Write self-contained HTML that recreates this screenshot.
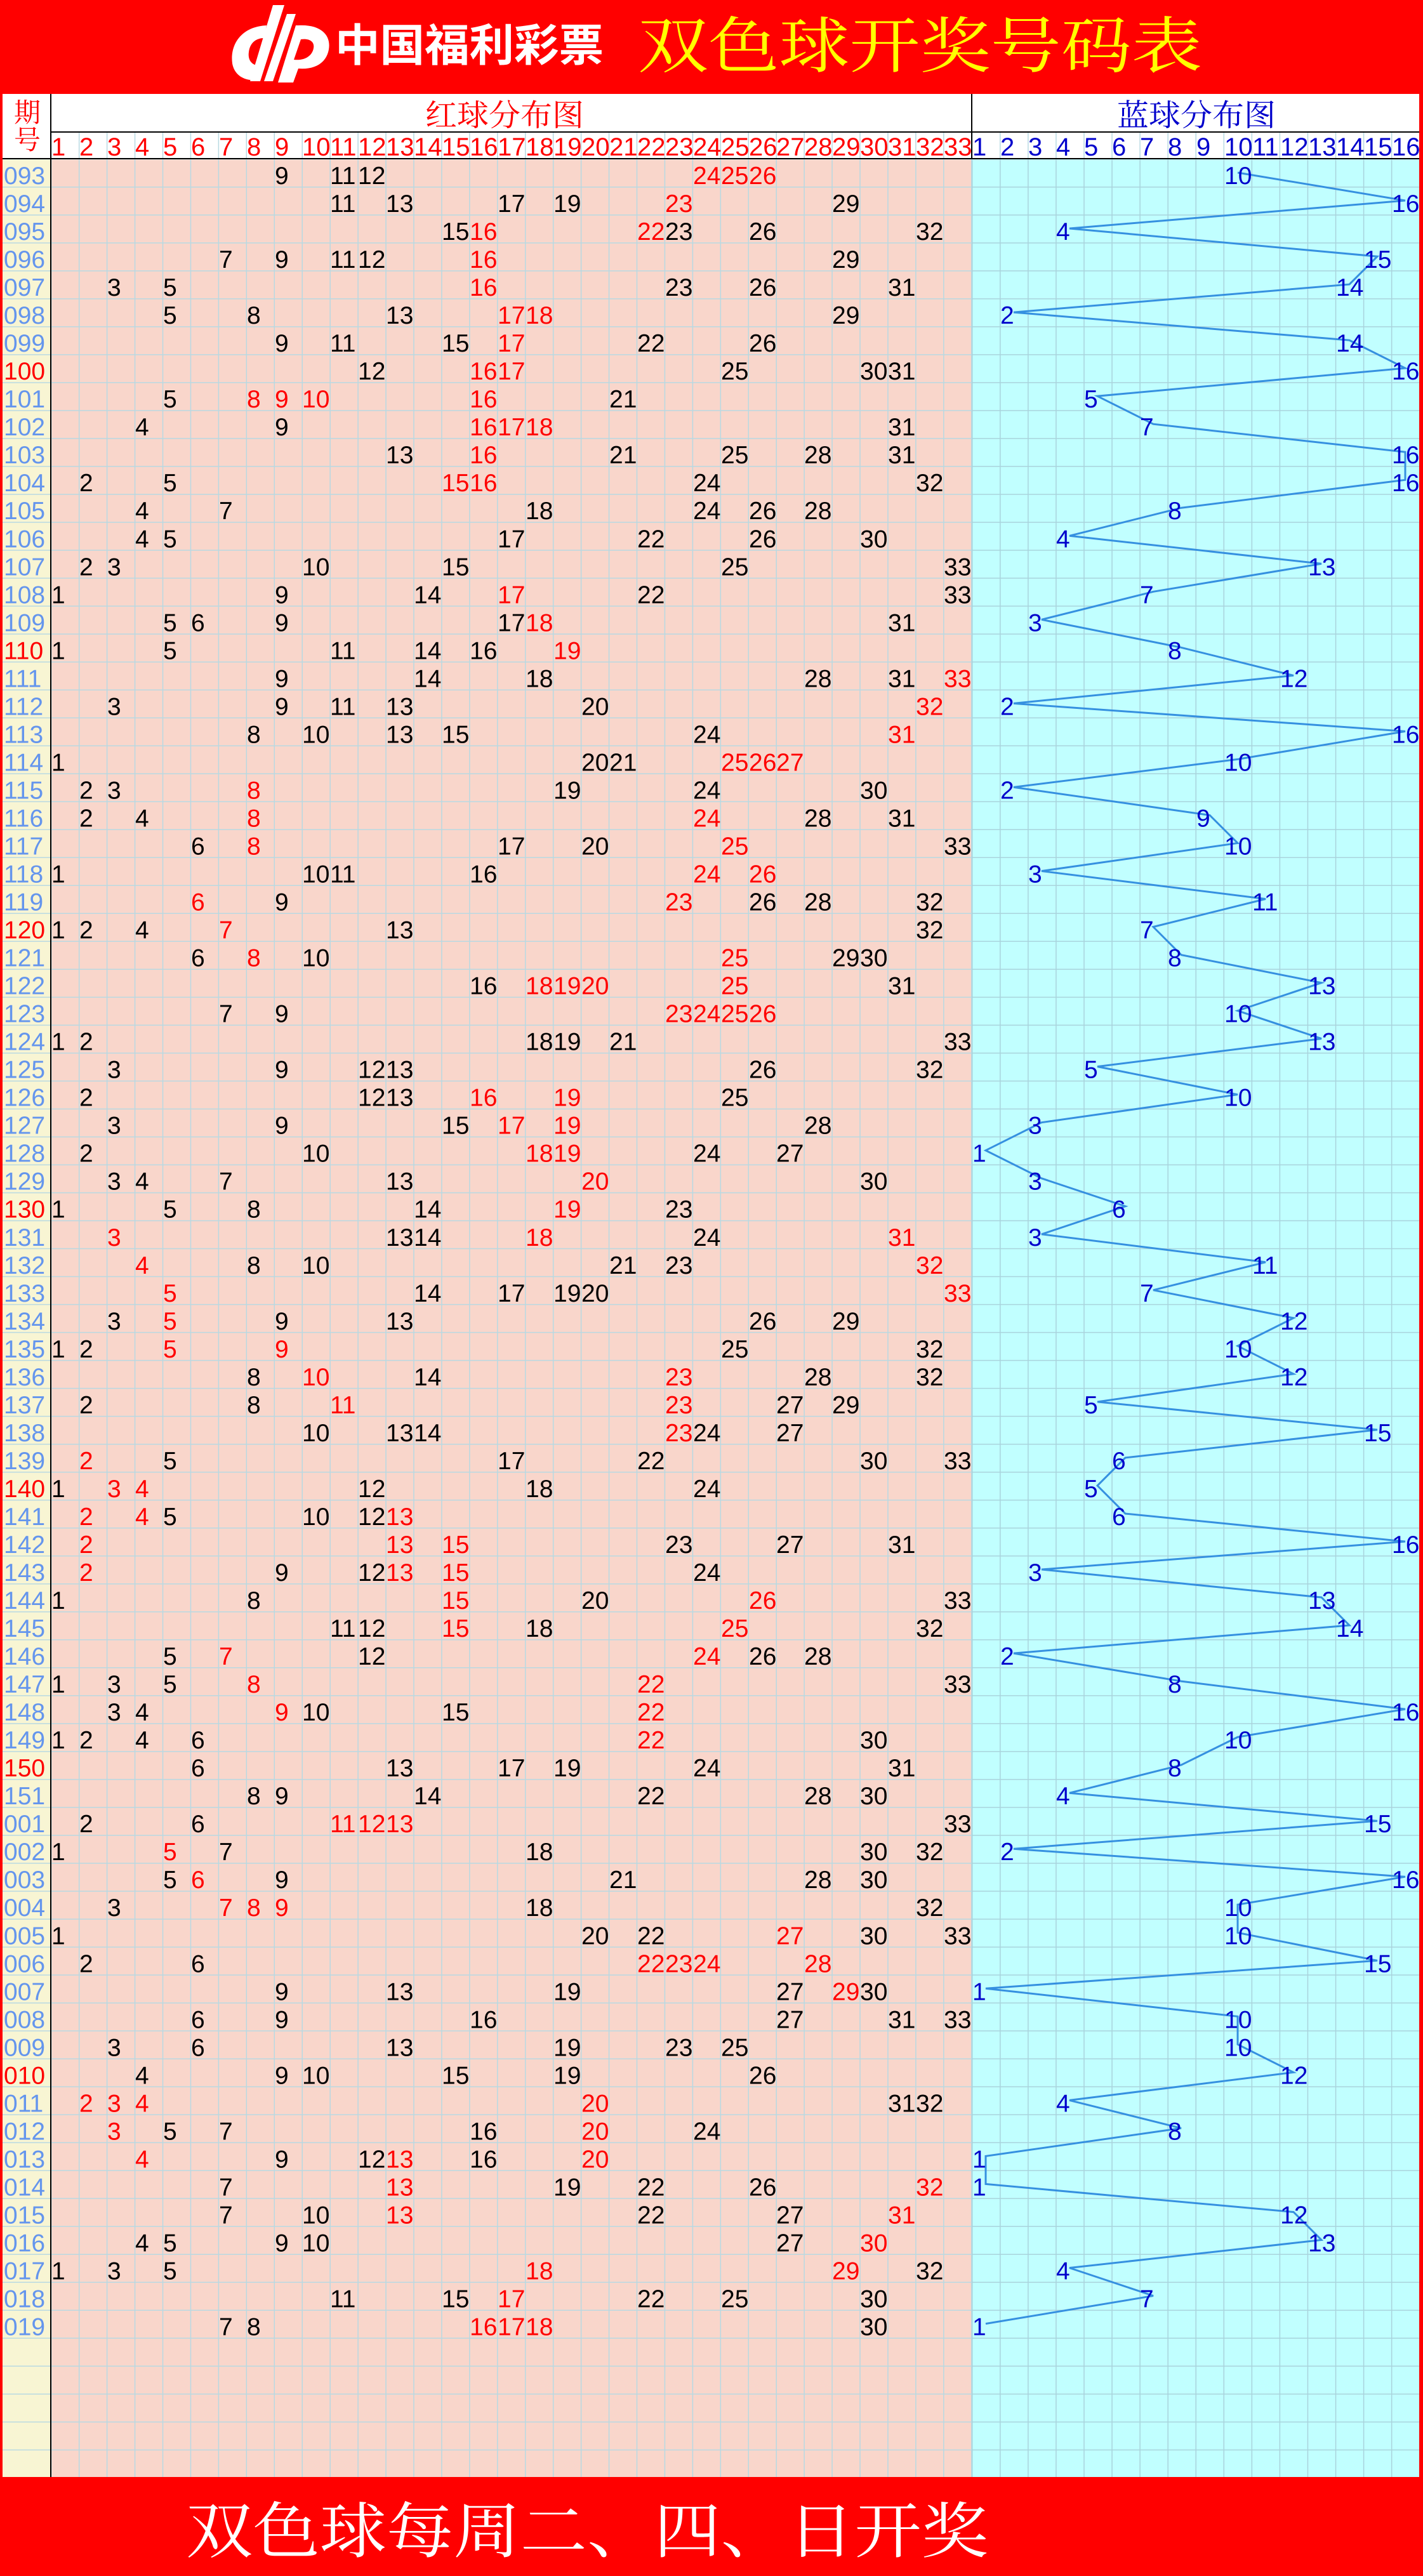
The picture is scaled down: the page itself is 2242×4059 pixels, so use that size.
<!DOCTYPE html>
<html><head><meta charset="utf-8"><style>
html,body{margin:0;padding:0;background:#f00;}
svg{display:block}
text{font-family:"Liberation Sans",sans-serif;font-size:39px;}
.p{fill:#6495ed}.pr{fill:#f00}
.k{fill:#000}.r{fill:#f00}
.b{fill:#0000cc}
.hr{fill:#f00;font-size:40px}.hb{fill:#0000cc;font-size:40px}
.cj{font-family:"Liberation Serif","Noto Serif CJK SC",serif;}
</style></head><body>
<svg xmlns="http://www.w3.org/2000/svg" width="2242" height="4059" viewBox="0 0 2242 4059">
<defs>
<pattern id="pr" x="80" y="250" width="43.94" height="44.02" patternUnits="userSpaceOnUse"><rect width="43.94" height="44.02" fill="#f9d6cb"/><path d="M0.75 0V44.02M0 0.75H43.94" stroke="#b8d9e2" stroke-width="1.5"/></pattern>
<pattern id="pb" x="1531" y="250" width="44.06" height="44.02" patternUnits="userSpaceOnUse"><rect width="44.06" height="44.02" fill="#c1ffff"/><path d="M0.75 0V44.02M0 0.75H44.06" stroke="#a9d3dc" stroke-width="1.5"/></pattern>
<pattern id="pc" x="4" y="250" width="76" height="44.02" patternUnits="userSpaceOnUse"><rect width="76" height="44.02" fill="#f8f5d3"/><path d="M0 0.75H76" stroke="#b8d9e2" stroke-width="1.5"/></pattern>
<pattern id="ph" x="80" y="208" width="43.94" height="42" patternUnits="userSpaceOnUse"><rect width="43.94" height="42" fill="#fff"/><path d="M0.75 0V42" stroke="#b8d9e2" stroke-width="1.5"/></pattern>
<pattern id="phb" x="1531" y="208" width="44.06" height="42" patternUnits="userSpaceOnUse"><rect width="44.06" height="42" fill="#fff"/><path d="M0.75 0V42" stroke="#b8d9e2" stroke-width="1.5"/></pattern>
</defs>
<rect width="2242" height="4059" fill="#f00"/>
<!-- logo -->
<g fill="#fff">
<path d="M420 40 C380 42 362 70 366 100 C370 122 390 128 405 126 L412 104 C398 104 390 96 392 82 C394 66 405 60 416 60 Z"/>
<polygon points="430,8 448,8 410,128 394,128"/>
<polygon points="452,22 466,22 430,128 416,128"/>
<path d="M470 40 C505 38 522 55 518 78 C514 100 495 110 470 108 L462 130 L438 130 L466 40 Z M474 62 L463 94 C480 96 492 88 494 76 C496 66 488 60 474 62 Z"/>
</g>
<text x="528" y="96" textLength="423" lengthAdjust="spacingAndGlyphs" style="font-family:'Liberation Sans','Noto Sans CJK SC',sans-serif;font-weight:bold;font-size:70px;fill:#fff">中国福利彩票</text>
<text class="cj" x="1005" y="106" textLength="889" lengthAdjust="spacingAndGlyphs" style="font-size:96px;fill:#ff0">双色球开奖号码表</text>
<!-- table -->
<rect x="4" y="148" width="2232" height="102" fill="#fff"/>
<rect x="80" y="208" width="1451" height="42" fill="url(#ph)"/>
<rect x="1531" y="208" width="705" height="42" fill="url(#phb)"/>
<rect x="4" y="250" width="76" height="3653" fill="url(#pc)"/>
<rect x="80" y="250" width="1451" height="3653" fill="url(#pr)"/>
<rect x="1531" y="250" width="705" height="3653" fill="url(#pb)"/>
<path d="M80 148V3903M80 208H2236M4 250H2236M1531 148V250" stroke="#000" stroke-width="2" fill="none"/>
<text class="cj" x="22" y="192" style="font-size:42px;fill:#f00">期</text>
<text class="cj" x="22" y="235" style="font-size:42px;fill:#f00">号</text>
<text class="cj" x="670" y="198" textLength="250" lengthAdjust="spacingAndGlyphs" style="font-size:48px;fill:#f00">红球分布图</text>
<text class="cj" x="1760" y="198" textLength="250" lengthAdjust="spacingAndGlyphs" style="font-size:48px;fill:#0000cc">蓝球分布图</text>
<text class="hr" y="245"><tspan x="81">1</tspan><tspan x="125">2</tspan><tspan x="169">3</tspan><tspan x="213">4</tspan><tspan x="257">5</tspan><tspan x="301">6</tspan><tspan x="345">7</tspan><tspan x="389">8</tspan><tspan x="433">9</tspan><tspan x="476">10</tspan><tspan x="520">11</tspan><tspan x="564">12</tspan><tspan x="608">13</tspan><tspan x="652">14</tspan><tspan x="696">15</tspan><tspan x="740">16</tspan><tspan x="784">17</tspan><tspan x="828">18</tspan><tspan x="872">19</tspan><tspan x="916">20</tspan><tspan x="960">21</tspan><tspan x="1004">22</tspan><tspan x="1048">23</tspan><tspan x="1092">24</tspan><tspan x="1136">25</tspan><tspan x="1180">26</tspan><tspan x="1223">27</tspan><tspan x="1267">28</tspan><tspan x="1311">29</tspan><tspan x="1355">30</tspan><tspan x="1399">31</tspan><tspan x="1443">32</tspan><tspan x="1487">33</tspan></text>
<text class="hb" y="245"><tspan x="1532">1</tspan><tspan x="1576">2</tspan><tspan x="1620">3</tspan><tspan x="1664">4</tspan><tspan x="1708">5</tspan><tspan x="1752">6</tspan><tspan x="1796">7</tspan><tspan x="1840">8</tspan><tspan x="1885">9</tspan><tspan x="1929">10</tspan><tspan x="1973">11</tspan><tspan x="2017">12</tspan><tspan x="2061">13</tspan><tspan x="2105">14</tspan><tspan x="2149">15</tspan><tspan x="2193">16</tspan></text>
<!-- blue line -->
<polyline fill="none" stroke="#3590e0" stroke-width="3" points="1950,272 2214,316 1685,360 2170,404.1 2126,448.1 1597,492.1 2126,536.1 2214,580.1 1729,624.2 1817,668.2 2214,712.2 2214,756.2 1861,800.2 1685,844.3 2082,888.3 1817,932.3 1641,976.3 1861,1020.3 2038,1064.4 1597,1108.4 2214,1152.4 1950,1196.4 1597,1240.4 1906,1284.5 1950,1328.5 1641,1372.5 1994,1416.5 1817,1460.5 1861,1504.6 2082,1548.6 1950,1592.6 2082,1636.6 1729,1680.6 1950,1724.7 1641,1768.7 1553,1812.7 1641,1856.7 1773,1900.7 1641,1944.8 1994,1988.8 1817,2032.8 2038,2076.8 1950,2120.8 2038,2164.9 1729,2208.9 2170,2252.9 1773,2296.9 1729,2340.9 1773,2385 2214,2429 1641,2473 2082,2517 2126,2561 1597,2605.1 1861,2649.1 2214,2693.1 1950,2737.1 1861,2781.1 1685,2825.2 2170,2869.2 1597,2913.2 2214,2957.2 1950,3001.2 1950,3045.3 2170,3089.3 1553,3133.3 1950,3177.3 1950,3221.3 2038,3265.4 1685,3309.4 1861,3353.4 1553,3397.4 1553,3441.4 2038,3485.5 2082,3529.5 1685,3573.5 1817,3617.5 1553,3661.5"/>
<!-- rows -->
<g transform="translate(0,250)"><text class="p" x="6" y="40">093</text><text class="k" y="40"><tspan x="433">9</tspan><tspan x="520">11</tspan><tspan x="564">12</tspan><tspan class="r" x="1092">24</tspan><tspan class="r" x="1136">25</tspan><tspan class="r" x="1180">26</tspan></text><text class="b" x="1929" y="40">10</text></g>
<g transform="translate(0,294)"><text class="p" x="6" y="40">094</text><text class="k" y="40"><tspan x="520">11</tspan><tspan x="608">13</tspan><tspan x="784">17</tspan><tspan x="872">19</tspan><tspan class="r" x="1048">23</tspan><tspan x="1311">29</tspan></text><text class="b" x="2193" y="40">16</text></g>
<g transform="translate(0,338)"><text class="p" x="6" y="40">095</text><text class="k" y="40"><tspan x="696">15</tspan><tspan class="r" x="740">16</tspan><tspan class="r" x="1004">22</tspan><tspan x="1048">23</tspan><tspan x="1180">26</tspan><tspan x="1443">32</tspan></text><text class="b" x="1664" y="40">4</text></g>
<g transform="translate(0,382.1)"><text class="p" x="6" y="40">096</text><text class="k" y="40"><tspan x="345">7</tspan><tspan x="433">9</tspan><tspan x="520">11</tspan><tspan x="564">12</tspan><tspan class="r" x="740">16</tspan><tspan x="1311">29</tspan></text><text class="b" x="2149" y="40">15</text></g>
<g transform="translate(0,426.1)"><text class="p" x="6" y="40">097</text><text class="k" y="40"><tspan x="169">3</tspan><tspan x="257">5</tspan><tspan class="r" x="740">16</tspan><tspan x="1048">23</tspan><tspan x="1180">26</tspan><tspan x="1399">31</tspan></text><text class="b" x="2105" y="40">14</text></g>
<g transform="translate(0,470.1)"><text class="p" x="6" y="40">098</text><text class="k" y="40"><tspan x="257">5</tspan><tspan x="389">8</tspan><tspan x="608">13</tspan><tspan class="r" x="784">17</tspan><tspan class="r" x="828">18</tspan><tspan x="1311">29</tspan></text><text class="b" x="1576" y="40">2</text></g>
<g transform="translate(0,514.1)"><text class="p" x="6" y="40">099</text><text class="k" y="40"><tspan x="433">9</tspan><tspan x="520">11</tspan><tspan x="696">15</tspan><tspan class="r" x="784">17</tspan><tspan x="1004">22</tspan><tspan x="1180">26</tspan></text><text class="b" x="2105" y="40">14</text></g>
<g transform="translate(0,558.1)"><text class="pr" x="6" y="40">100</text><text class="k" y="40"><tspan x="564">12</tspan><tspan class="r" x="740">16</tspan><tspan class="r" x="784">17</tspan><tspan x="1136">25</tspan><tspan x="1355">30</tspan><tspan x="1399">31</tspan></text><text class="b" x="2193" y="40">16</text></g>
<g transform="translate(0,602.2)"><text class="p" x="6" y="40">101</text><text class="k" y="40"><tspan x="257">5</tspan><tspan class="r" x="389">8</tspan><tspan class="r" x="433">9</tspan><tspan class="r" x="476">10</tspan><tspan class="r" x="740">16</tspan><tspan x="960">21</tspan></text><text class="b" x="1708" y="40">5</text></g>
<g transform="translate(0,646.2)"><text class="p" x="6" y="40">102</text><text class="k" y="40"><tspan x="213">4</tspan><tspan x="433">9</tspan><tspan class="r" x="740">16</tspan><tspan class="r" x="784">17</tspan><tspan class="r" x="828">18</tspan><tspan x="1399">31</tspan></text><text class="b" x="1796" y="40">7</text></g>
<g transform="translate(0,690.2)"><text class="p" x="6" y="40">103</text><text class="k" y="40"><tspan x="608">13</tspan><tspan class="r" x="740">16</tspan><tspan x="960">21</tspan><tspan x="1136">25</tspan><tspan x="1267">28</tspan><tspan x="1399">31</tspan></text><text class="b" x="2193" y="40">16</text></g>
<g transform="translate(0,734.2)"><text class="p" x="6" y="40">104</text><text class="k" y="40"><tspan x="125">2</tspan><tspan x="257">5</tspan><tspan class="r" x="696">15</tspan><tspan class="r" x="740">16</tspan><tspan x="1092">24</tspan><tspan x="1443">32</tspan></text><text class="b" x="2193" y="40">16</text></g>
<g transform="translate(0,778.2)"><text class="p" x="6" y="40">105</text><text class="k" y="40"><tspan x="213">4</tspan><tspan x="345">7</tspan><tspan x="828">18</tspan><tspan x="1092">24</tspan><tspan x="1180">26</tspan><tspan x="1267">28</tspan></text><text class="b" x="1840" y="40">8</text></g>
<g transform="translate(0,822.3)"><text class="p" x="6" y="40">106</text><text class="k" y="40"><tspan x="213">4</tspan><tspan x="257">5</tspan><tspan x="784">17</tspan><tspan x="1004">22</tspan><tspan x="1180">26</tspan><tspan x="1355">30</tspan></text><text class="b" x="1664" y="40">4</text></g>
<g transform="translate(0,866.3)"><text class="p" x="6" y="40">107</text><text class="k" y="40"><tspan x="125">2</tspan><tspan x="169">3</tspan><tspan x="476">10</tspan><tspan x="696">15</tspan><tspan x="1136">25</tspan><tspan x="1487">33</tspan></text><text class="b" x="2061" y="40">13</text></g>
<g transform="translate(0,910.3)"><text class="p" x="6" y="40">108</text><text class="k" y="40"><tspan x="81">1</tspan><tspan x="433">9</tspan><tspan x="652">14</tspan><tspan class="r" x="784">17</tspan><tspan x="1004">22</tspan><tspan x="1487">33</tspan></text><text class="b" x="1796" y="40">7</text></g>
<g transform="translate(0,954.3)"><text class="p" x="6" y="40">109</text><text class="k" y="40"><tspan x="257">5</tspan><tspan x="301">6</tspan><tspan x="433">9</tspan><tspan x="784">17</tspan><tspan class="r" x="828">18</tspan><tspan x="1399">31</tspan></text><text class="b" x="1620" y="40">3</text></g>
<g transform="translate(0,998.3)"><text class="pr" x="6" y="40">110</text><text class="k" y="40"><tspan x="81">1</tspan><tspan x="257">5</tspan><tspan x="520">11</tspan><tspan x="652">14</tspan><tspan x="740">16</tspan><tspan class="r" x="872">19</tspan></text><text class="b" x="1840" y="40">8</text></g>
<g transform="translate(0,1042.4)"><text class="p" x="6" y="40">111</text><text class="k" y="40"><tspan x="433">9</tspan><tspan x="652">14</tspan><tspan x="828">18</tspan><tspan x="1267">28</tspan><tspan x="1399">31</tspan><tspan class="r" x="1487">33</tspan></text><text class="b" x="2017" y="40">12</text></g>
<g transform="translate(0,1086.4)"><text class="p" x="6" y="40">112</text><text class="k" y="40"><tspan x="169">3</tspan><tspan x="433">9</tspan><tspan x="520">11</tspan><tspan x="608">13</tspan><tspan x="916">20</tspan><tspan class="r" x="1443">32</tspan></text><text class="b" x="1576" y="40">2</text></g>
<g transform="translate(0,1130.4)"><text class="p" x="6" y="40">113</text><text class="k" y="40"><tspan x="389">8</tspan><tspan x="476">10</tspan><tspan x="608">13</tspan><tspan x="696">15</tspan><tspan x="1092">24</tspan><tspan class="r" x="1399">31</tspan></text><text class="b" x="2193" y="40">16</text></g>
<g transform="translate(0,1174.4)"><text class="p" x="6" y="40">114</text><text class="k" y="40"><tspan x="81">1</tspan><tspan x="916">20</tspan><tspan x="960">21</tspan><tspan class="r" x="1136">25</tspan><tspan class="r" x="1180">26</tspan><tspan class="r" x="1223">27</tspan></text><text class="b" x="1929" y="40">10</text></g>
<g transform="translate(0,1218.4)"><text class="p" x="6" y="40">115</text><text class="k" y="40"><tspan x="125">2</tspan><tspan x="169">3</tspan><tspan class="r" x="389">8</tspan><tspan x="872">19</tspan><tspan x="1092">24</tspan><tspan x="1355">30</tspan></text><text class="b" x="1576" y="40">2</text></g>
<g transform="translate(0,1262.5)"><text class="p" x="6" y="40">116</text><text class="k" y="40"><tspan x="125">2</tspan><tspan x="213">4</tspan><tspan class="r" x="389">8</tspan><tspan class="r" x="1092">24</tspan><tspan x="1267">28</tspan><tspan x="1399">31</tspan></text><text class="b" x="1885" y="40">9</text></g>
<g transform="translate(0,1306.5)"><text class="p" x="6" y="40">117</text><text class="k" y="40"><tspan x="301">6</tspan><tspan class="r" x="389">8</tspan><tspan x="784">17</tspan><tspan x="916">20</tspan><tspan class="r" x="1136">25</tspan><tspan x="1487">33</tspan></text><text class="b" x="1929" y="40">10</text></g>
<g transform="translate(0,1350.5)"><text class="p" x="6" y="40">118</text><text class="k" y="40"><tspan x="81">1</tspan><tspan x="476">10</tspan><tspan x="520">11</tspan><tspan x="740">16</tspan><tspan class="r" x="1092">24</tspan><tspan class="r" x="1180">26</tspan></text><text class="b" x="1620" y="40">3</text></g>
<g transform="translate(0,1394.5)"><text class="p" x="6" y="40">119</text><text class="k" y="40"><tspan class="r" x="301">6</tspan><tspan x="433">9</tspan><tspan class="r" x="1048">23</tspan><tspan x="1180">26</tspan><tspan x="1267">28</tspan><tspan x="1443">32</tspan></text><text class="b" x="1973" y="40">11</text></g>
<g transform="translate(0,1438.5)"><text class="pr" x="6" y="40">120</text><text class="k" y="40"><tspan x="81">1</tspan><tspan x="125">2</tspan><tspan x="213">4</tspan><tspan class="r" x="345">7</tspan><tspan x="608">13</tspan><tspan x="1443">32</tspan></text><text class="b" x="1796" y="40">7</text></g>
<g transform="translate(0,1482.6)"><text class="p" x="6" y="40">121</text><text class="k" y="40"><tspan x="301">6</tspan><tspan class="r" x="389">8</tspan><tspan x="476">10</tspan><tspan class="r" x="1136">25</tspan><tspan x="1311">29</tspan><tspan x="1355">30</tspan></text><text class="b" x="1840" y="40">8</text></g>
<g transform="translate(0,1526.6)"><text class="p" x="6" y="40">122</text><text class="k" y="40"><tspan x="740">16</tspan><tspan class="r" x="828">18</tspan><tspan class="r" x="872">19</tspan><tspan class="r" x="916">20</tspan><tspan class="r" x="1136">25</tspan><tspan x="1399">31</tspan></text><text class="b" x="2061" y="40">13</text></g>
<g transform="translate(0,1570.6)"><text class="p" x="6" y="40">123</text><text class="k" y="40"><tspan x="345">7</tspan><tspan x="433">9</tspan><tspan class="r" x="1048">23</tspan><tspan class="r" x="1092">24</tspan><tspan class="r" x="1136">25</tspan><tspan class="r" x="1180">26</tspan></text><text class="b" x="1929" y="40">10</text></g>
<g transform="translate(0,1614.6)"><text class="p" x="6" y="40">124</text><text class="k" y="40"><tspan x="81">1</tspan><tspan x="125">2</tspan><tspan x="828">18</tspan><tspan x="872">19</tspan><tspan x="960">21</tspan><tspan x="1487">33</tspan></text><text class="b" x="2061" y="40">13</text></g>
<g transform="translate(0,1658.6)"><text class="p" x="6" y="40">125</text><text class="k" y="40"><tspan x="169">3</tspan><tspan x="433">9</tspan><tspan x="564">12</tspan><tspan x="608">13</tspan><tspan x="1180">26</tspan><tspan x="1443">32</tspan></text><text class="b" x="1708" y="40">5</text></g>
<g transform="translate(0,1702.7)"><text class="p" x="6" y="40">126</text><text class="k" y="40"><tspan x="125">2</tspan><tspan x="564">12</tspan><tspan x="608">13</tspan><tspan class="r" x="740">16</tspan><tspan class="r" x="872">19</tspan><tspan x="1136">25</tspan></text><text class="b" x="1929" y="40">10</text></g>
<g transform="translate(0,1746.7)"><text class="p" x="6" y="40">127</text><text class="k" y="40"><tspan x="169">3</tspan><tspan x="433">9</tspan><tspan x="696">15</tspan><tspan class="r" x="784">17</tspan><tspan class="r" x="872">19</tspan><tspan x="1267">28</tspan></text><text class="b" x="1620" y="40">3</text></g>
<g transform="translate(0,1790.7)"><text class="p" x="6" y="40">128</text><text class="k" y="40"><tspan x="125">2</tspan><tspan x="476">10</tspan><tspan class="r" x="828">18</tspan><tspan class="r" x="872">19</tspan><tspan x="1092">24</tspan><tspan x="1223">27</tspan></text><text class="b" x="1532" y="40">1</text></g>
<g transform="translate(0,1834.7)"><text class="p" x="6" y="40">129</text><text class="k" y="40"><tspan x="169">3</tspan><tspan x="213">4</tspan><tspan x="345">7</tspan><tspan x="608">13</tspan><tspan class="r" x="916">20</tspan><tspan x="1355">30</tspan></text><text class="b" x="1620" y="40">3</text></g>
<g transform="translate(0,1878.7)"><text class="pr" x="6" y="40">130</text><text class="k" y="40"><tspan x="81">1</tspan><tspan x="257">5</tspan><tspan x="389">8</tspan><tspan x="652">14</tspan><tspan class="r" x="872">19</tspan><tspan x="1048">23</tspan></text><text class="b" x="1752" y="40">6</text></g>
<g transform="translate(0,1922.8)"><text class="p" x="6" y="40">131</text><text class="k" y="40"><tspan class="r" x="169">3</tspan><tspan x="608">13</tspan><tspan x="652">14</tspan><tspan class="r" x="828">18</tspan><tspan x="1092">24</tspan><tspan class="r" x="1399">31</tspan></text><text class="b" x="1620" y="40">3</text></g>
<g transform="translate(0,1966.8)"><text class="p" x="6" y="40">132</text><text class="k" y="40"><tspan class="r" x="213">4</tspan><tspan x="389">8</tspan><tspan x="476">10</tspan><tspan x="960">21</tspan><tspan x="1048">23</tspan><tspan class="r" x="1443">32</tspan></text><text class="b" x="1973" y="40">11</text></g>
<g transform="translate(0,2010.8)"><text class="p" x="6" y="40">133</text><text class="k" y="40"><tspan class="r" x="257">5</tspan><tspan x="652">14</tspan><tspan x="784">17</tspan><tspan x="872">19</tspan><tspan x="916">20</tspan><tspan class="r" x="1487">33</tspan></text><text class="b" x="1796" y="40">7</text></g>
<g transform="translate(0,2054.8)"><text class="p" x="6" y="40">134</text><text class="k" y="40"><tspan x="169">3</tspan><tspan class="r" x="257">5</tspan><tspan x="433">9</tspan><tspan x="608">13</tspan><tspan x="1180">26</tspan><tspan x="1311">29</tspan></text><text class="b" x="2017" y="40">12</text></g>
<g transform="translate(0,2098.8)"><text class="p" x="6" y="40">135</text><text class="k" y="40"><tspan x="81">1</tspan><tspan x="125">2</tspan><tspan class="r" x="257">5</tspan><tspan class="r" x="433">9</tspan><tspan x="1136">25</tspan><tspan x="1443">32</tspan></text><text class="b" x="1929" y="40">10</text></g>
<g transform="translate(0,2142.9)"><text class="p" x="6" y="40">136</text><text class="k" y="40"><tspan x="389">8</tspan><tspan class="r" x="476">10</tspan><tspan x="652">14</tspan><tspan class="r" x="1048">23</tspan><tspan x="1267">28</tspan><tspan x="1443">32</tspan></text><text class="b" x="2017" y="40">12</text></g>
<g transform="translate(0,2186.9)"><text class="p" x="6" y="40">137</text><text class="k" y="40"><tspan x="125">2</tspan><tspan x="389">8</tspan><tspan class="r" x="520">11</tspan><tspan class="r" x="1048">23</tspan><tspan x="1223">27</tspan><tspan x="1311">29</tspan></text><text class="b" x="1708" y="40">5</text></g>
<g transform="translate(0,2230.9)"><text class="p" x="6" y="40">138</text><text class="k" y="40"><tspan x="476">10</tspan><tspan x="608">13</tspan><tspan x="652">14</tspan><tspan class="r" x="1048">23</tspan><tspan x="1092">24</tspan><tspan x="1223">27</tspan></text><text class="b" x="2149" y="40">15</text></g>
<g transform="translate(0,2274.9)"><text class="p" x="6" y="40">139</text><text class="k" y="40"><tspan class="r" x="125">2</tspan><tspan x="257">5</tspan><tspan x="784">17</tspan><tspan x="1004">22</tspan><tspan x="1355">30</tspan><tspan x="1487">33</tspan></text><text class="b" x="1752" y="40">6</text></g>
<g transform="translate(0,2318.9)"><text class="pr" x="6" y="40">140</text><text class="k" y="40"><tspan x="81">1</tspan><tspan class="r" x="169">3</tspan><tspan class="r" x="213">4</tspan><tspan x="564">12</tspan><tspan x="828">18</tspan><tspan x="1092">24</tspan></text><text class="b" x="1708" y="40">5</text></g>
<g transform="translate(0,2363)"><text class="p" x="6" y="40">141</text><text class="k" y="40"><tspan class="r" x="125">2</tspan><tspan class="r" x="213">4</tspan><tspan x="257">5</tspan><tspan x="476">10</tspan><tspan x="564">12</tspan><tspan class="r" x="608">13</tspan></text><text class="b" x="1752" y="40">6</text></g>
<g transform="translate(0,2407)"><text class="p" x="6" y="40">142</text><text class="k" y="40"><tspan class="r" x="125">2</tspan><tspan class="r" x="608">13</tspan><tspan class="r" x="696">15</tspan><tspan x="1048">23</tspan><tspan x="1223">27</tspan><tspan x="1399">31</tspan></text><text class="b" x="2193" y="40">16</text></g>
<g transform="translate(0,2451)"><text class="p" x="6" y="40">143</text><text class="k" y="40"><tspan class="r" x="125">2</tspan><tspan x="433">9</tspan><tspan x="564">12</tspan><tspan class="r" x="608">13</tspan><tspan class="r" x="696">15</tspan><tspan x="1092">24</tspan></text><text class="b" x="1620" y="40">3</text></g>
<g transform="translate(0,2495)"><text class="p" x="6" y="40">144</text><text class="k" y="40"><tspan x="81">1</tspan><tspan x="389">8</tspan><tspan class="r" x="696">15</tspan><tspan x="916">20</tspan><tspan class="r" x="1180">26</tspan><tspan x="1487">33</tspan></text><text class="b" x="2061" y="40">13</text></g>
<g transform="translate(0,2539)"><text class="p" x="6" y="40">145</text><text class="k" y="40"><tspan x="520">11</tspan><tspan x="564">12</tspan><tspan class="r" x="696">15</tspan><tspan x="828">18</tspan><tspan class="r" x="1136">25</tspan><tspan x="1443">32</tspan></text><text class="b" x="2105" y="40">14</text></g>
<g transform="translate(0,2583.1)"><text class="p" x="6" y="40">146</text><text class="k" y="40"><tspan x="257">5</tspan><tspan class="r" x="345">7</tspan><tspan x="564">12</tspan><tspan class="r" x="1092">24</tspan><tspan x="1180">26</tspan><tspan x="1267">28</tspan></text><text class="b" x="1576" y="40">2</text></g>
<g transform="translate(0,2627.1)"><text class="p" x="6" y="40">147</text><text class="k" y="40"><tspan x="81">1</tspan><tspan x="169">3</tspan><tspan x="257">5</tspan><tspan class="r" x="389">8</tspan><tspan class="r" x="1004">22</tspan><tspan x="1487">33</tspan></text><text class="b" x="1840" y="40">8</text></g>
<g transform="translate(0,2671.1)"><text class="p" x="6" y="40">148</text><text class="k" y="40"><tspan x="169">3</tspan><tspan x="213">4</tspan><tspan class="r" x="433">9</tspan><tspan x="476">10</tspan><tspan x="696">15</tspan><tspan class="r" x="1004">22</tspan></text><text class="b" x="2193" y="40">16</text></g>
<g transform="translate(0,2715.1)"><text class="p" x="6" y="40">149</text><text class="k" y="40"><tspan x="81">1</tspan><tspan x="125">2</tspan><tspan x="213">4</tspan><tspan x="301">6</tspan><tspan class="r" x="1004">22</tspan><tspan x="1355">30</tspan></text><text class="b" x="1929" y="40">10</text></g>
<g transform="translate(0,2759.1)"><text class="pr" x="6" y="40">150</text><text class="k" y="40"><tspan x="301">6</tspan><tspan x="608">13</tspan><tspan x="784">17</tspan><tspan x="872">19</tspan><tspan x="1092">24</tspan><tspan x="1399">31</tspan></text><text class="b" x="1840" y="40">8</text></g>
<g transform="translate(0,2803.2)"><text class="p" x="6" y="40">151</text><text class="k" y="40"><tspan x="389">8</tspan><tspan x="433">9</tspan><tspan x="652">14</tspan><tspan x="1004">22</tspan><tspan x="1267">28</tspan><tspan x="1355">30</tspan></text><text class="b" x="1664" y="40">4</text></g>
<g transform="translate(0,2847.2)"><text class="p" x="6" y="40">001</text><text class="k" y="40"><tspan x="125">2</tspan><tspan x="301">6</tspan><tspan class="r" x="520">11</tspan><tspan class="r" x="564">12</tspan><tspan class="r" x="608">13</tspan><tspan x="1487">33</tspan></text><text class="b" x="2149" y="40">15</text></g>
<g transform="translate(0,2891.2)"><text class="p" x="6" y="40">002</text><text class="k" y="40"><tspan x="81">1</tspan><tspan class="r" x="257">5</tspan><tspan x="345">7</tspan><tspan x="828">18</tspan><tspan x="1355">30</tspan><tspan x="1443">32</tspan></text><text class="b" x="1576" y="40">2</text></g>
<g transform="translate(0,2935.2)"><text class="p" x="6" y="40">003</text><text class="k" y="40"><tspan x="257">5</tspan><tspan class="r" x="301">6</tspan><tspan x="433">9</tspan><tspan x="960">21</tspan><tspan x="1267">28</tspan><tspan x="1355">30</tspan></text><text class="b" x="2193" y="40">16</text></g>
<g transform="translate(0,2979.2)"><text class="p" x="6" y="40">004</text><text class="k" y="40"><tspan x="169">3</tspan><tspan class="r" x="345">7</tspan><tspan class="r" x="389">8</tspan><tspan class="r" x="433">9</tspan><tspan x="828">18</tspan><tspan x="1443">32</tspan></text><text class="b" x="1929" y="40">10</text></g>
<g transform="translate(0,3023.3)"><text class="p" x="6" y="40">005</text><text class="k" y="40"><tspan x="81">1</tspan><tspan x="916">20</tspan><tspan x="1004">22</tspan><tspan class="r" x="1223">27</tspan><tspan x="1355">30</tspan><tspan x="1487">33</tspan></text><text class="b" x="1929" y="40">10</text></g>
<g transform="translate(0,3067.3)"><text class="p" x="6" y="40">006</text><text class="k" y="40"><tspan x="125">2</tspan><tspan x="301">6</tspan><tspan class="r" x="1004">22</tspan><tspan class="r" x="1048">23</tspan><tspan class="r" x="1092">24</tspan><tspan class="r" x="1267">28</tspan></text><text class="b" x="2149" y="40">15</text></g>
<g transform="translate(0,3111.3)"><text class="p" x="6" y="40">007</text><text class="k" y="40"><tspan x="433">9</tspan><tspan x="608">13</tspan><tspan x="872">19</tspan><tspan x="1223">27</tspan><tspan class="r" x="1311">29</tspan><tspan x="1355">30</tspan></text><text class="b" x="1532" y="40">1</text></g>
<g transform="translate(0,3155.3)"><text class="p" x="6" y="40">008</text><text class="k" y="40"><tspan x="301">6</tspan><tspan x="433">9</tspan><tspan x="740">16</tspan><tspan x="1223">27</tspan><tspan x="1399">31</tspan><tspan x="1487">33</tspan></text><text class="b" x="1929" y="40">10</text></g>
<g transform="translate(0,3199.3)"><text class="p" x="6" y="40">009</text><text class="k" y="40"><tspan x="169">3</tspan><tspan x="301">6</tspan><tspan x="608">13</tspan><tspan x="872">19</tspan><tspan x="1048">23</tspan><tspan x="1136">25</tspan></text><text class="b" x="1929" y="40">10</text></g>
<g transform="translate(0,3243.4)"><text class="pr" x="6" y="40">010</text><text class="k" y="40"><tspan x="213">4</tspan><tspan x="433">9</tspan><tspan x="476">10</tspan><tspan x="696">15</tspan><tspan x="872">19</tspan><tspan x="1180">26</tspan></text><text class="b" x="2017" y="40">12</text></g>
<g transform="translate(0,3287.4)"><text class="p" x="6" y="40">011</text><text class="k" y="40"><tspan class="r" x="125">2</tspan><tspan class="r" x="169">3</tspan><tspan class="r" x="213">4</tspan><tspan class="r" x="916">20</tspan><tspan x="1399">31</tspan><tspan x="1443">32</tspan></text><text class="b" x="1664" y="40">4</text></g>
<g transform="translate(0,3331.4)"><text class="p" x="6" y="40">012</text><text class="k" y="40"><tspan class="r" x="169">3</tspan><tspan x="257">5</tspan><tspan x="345">7</tspan><tspan x="740">16</tspan><tspan class="r" x="916">20</tspan><tspan x="1092">24</tspan></text><text class="b" x="1840" y="40">8</text></g>
<g transform="translate(0,3375.4)"><text class="p" x="6" y="40">013</text><text class="k" y="40"><tspan class="r" x="213">4</tspan><tspan x="433">9</tspan><tspan x="564">12</tspan><tspan class="r" x="608">13</tspan><tspan x="740">16</tspan><tspan class="r" x="916">20</tspan></text><text class="b" x="1532" y="40">1</text></g>
<g transform="translate(0,3419.4)"><text class="p" x="6" y="40">014</text><text class="k" y="40"><tspan x="345">7</tspan><tspan class="r" x="608">13</tspan><tspan x="872">19</tspan><tspan x="1004">22</tspan><tspan x="1180">26</tspan><tspan class="r" x="1443">32</tspan></text><text class="b" x="1532" y="40">1</text></g>
<g transform="translate(0,3463.5)"><text class="p" x="6" y="40">015</text><text class="k" y="40"><tspan x="345">7</tspan><tspan x="476">10</tspan><tspan class="r" x="608">13</tspan><tspan x="1004">22</tspan><tspan x="1223">27</tspan><tspan class="r" x="1399">31</tspan></text><text class="b" x="2017" y="40">12</text></g>
<g transform="translate(0,3507.5)"><text class="p" x="6" y="40">016</text><text class="k" y="40"><tspan x="213">4</tspan><tspan x="257">5</tspan><tspan x="433">9</tspan><tspan x="476">10</tspan><tspan x="1223">27</tspan><tspan class="r" x="1355">30</tspan></text><text class="b" x="2061" y="40">13</text></g>
<g transform="translate(0,3551.5)"><text class="p" x="6" y="40">017</text><text class="k" y="40"><tspan x="81">1</tspan><tspan x="169">3</tspan><tspan x="257">5</tspan><tspan class="r" x="828">18</tspan><tspan class="r" x="1311">29</tspan><tspan x="1443">32</tspan></text><text class="b" x="1664" y="40">4</text></g>
<g transform="translate(0,3595.5)"><text class="p" x="6" y="40">018</text><text class="k" y="40"><tspan x="520">11</tspan><tspan x="696">15</tspan><tspan class="r" x="784">17</tspan><tspan x="1004">22</tspan><tspan x="1136">25</tspan><tspan x="1355">30</tspan></text><text class="b" x="1796" y="40">7</text></g>
<g transform="translate(0,3639.5)"><text class="p" x="6" y="40">019</text><text class="k" y="40"><tspan x="345">7</tspan><tspan x="389">8</tspan><tspan class="r" x="740">16</tspan><tspan class="r" x="784">17</tspan><tspan class="r" x="828">18</tspan><tspan x="1355">30</tspan></text><text class="b" x="1532" y="40">1</text></g>
<!-- footer -->
<text class="cj" x="293" y="4022" textLength="1264" lengthAdjust="spacingAndGlyphs" style="font-size:96px;fill:#fff">双色球每周二、四、日开奖</text>
</svg>
</body></html>
